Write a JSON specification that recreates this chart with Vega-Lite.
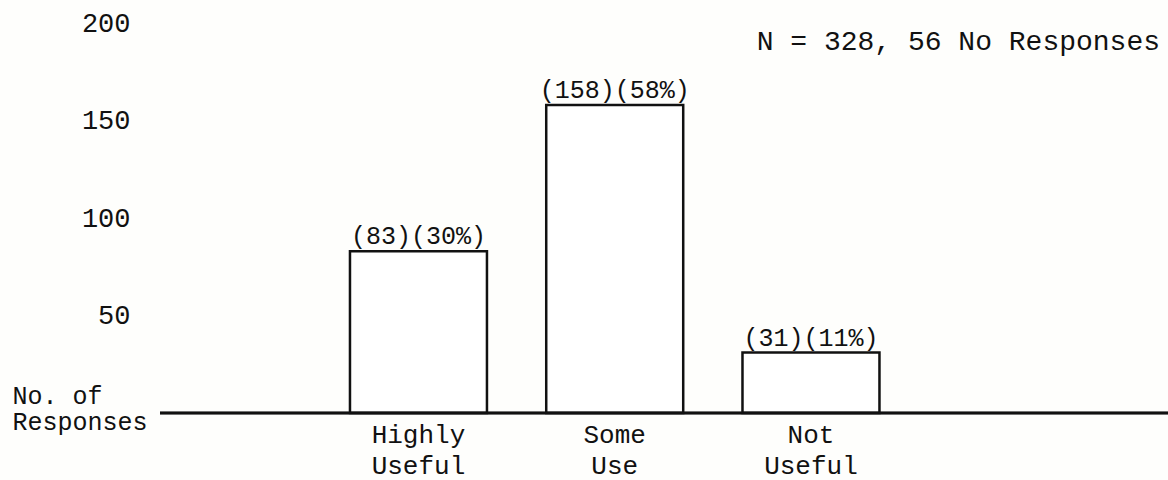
{
  "$schema": "https://vega.github.io/schema/vega-lite/v6.json",
  "width": 1008,
  "height": 390,
  "autosize": {"type": "none"},
  "padding": {"left": 160, "top": 23, "right": 0, "bottom": 67},
  "background": "#fefefc",
  "config": {
    "view": {"stroke": null},
    "font": "Liberation Mono"
  },
  "title": {
    "text": "N = 328, 56 No Responses",
    "anchor": "end",
    "frame": "group",
    "orient": "top",
    "offset": -69,
    "dx": -8,
    "baseline": "alphabetic",
    "font": "Liberation Mono",
    "fontSize": 28,
    "fontWeight": "normal",
    "color": "#111111"
  },
  "data": {
    "values": [
      {"response": "Highly Useful", "count": 83, "label": "(83)(30%)"},
      {"response": "Some Use", "count": 158, "label": "(158)(58%)"},
      {"response": "Not Useful", "count": 31, "label": "(31)(11%)"}
    ]
  },
  "layer": [
    {
      "mark": {"type": "bar", "fill": "#ffffff", "stroke": "#111111", "strokeWidth": 2.5},
      "encoding": {
        "x": {
          "field": "response",
          "type": "nominal",
          "sort": null,
          "scale": {"range": [0, 922], "paddingInner": 0.302, "paddingOuter": 1, "align": 0.484},
          "axis": {
            "title": null,
            "labelAngle": 0,
            "labelExpr": "split(datum.label, ' ')",
            "labelFont": "Liberation Mono",
            "labelFontSize": 26,
            "labelColor": "#111111",
            "labelBaseline": "top",
            "labelPadding": 8,
            "labelLineHeight": 31,
            "ticks": false,
            "domain": false,
            "grid": false
          }
        },
        "y": {
          "field": "count",
          "type": "quantitative",
          "scale": {"domain": [0, 200], "nice": false},
          "axis": {
            "values": [50, 100, 150, 200],
            "grid": false,
            "domain": false,
            "ticks": false,
            "labelFont": "Liberation Mono",
            "labelFontSize": 27,
            "labelColor": "#111111",
            "labelPadding": 30,
            "labelAlign": "right",
            "title": ["No. of", "Responses"],
            "titleAngle": 0,
            "titleAlign": "left",
            "titleBaseline": "alphabetic",
            "titleX": -148,
            "titleY": 380,
            "titleFont": "Liberation Mono",
            "titleFontSize": 25,
            "titleFontWeight": "normal",
            "titleColor": "#111111",
            "titleLineHeight": 26
          }
        }
      }
    },
    {
      "mark": {"type": "text", "baseline": "alphabetic", "dy": -7, "font": "Liberation Mono", "fontSize": 25, "color": "#111111"},
      "encoding": {
        "x": {"field": "response", "type": "nominal", "sort": null},
        "y": {"field": "count", "type": "quantitative"},
        "text": {"field": "label"}
      }
    },
    {
      "mark": {"type": "rule", "color": "#111111", "strokeWidth": 2.5},
      "encoding": {"y": {"datum": 0}}
    }
  ]
}
